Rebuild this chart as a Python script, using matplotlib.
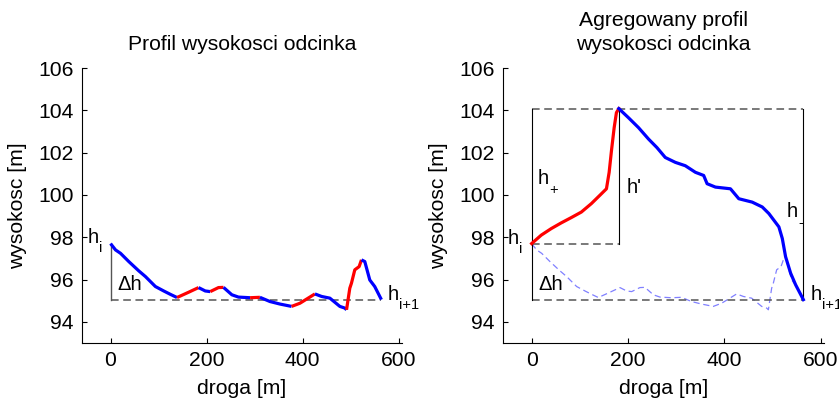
import matplotlib
matplotlib.use("Agg")
import matplotlib.pyplot as plt

plt.rcParams['font.family'] = ['Liberation Sans', 'DejaVu Sans']
FS = 15.2
TXT = 14.5
SUB = 10.5

# ---- original elevation profile (left) ----
dist = [0, 10.4, 20.8, 38, 58.8, 72.7, 93.4, 110.7, 124.6, 138.4, 162.6, 183.3,
        197.2, 207.6, 224.8, 235.2, 252.6, 266.4, 290.6, 311, 332, 353, 377,
        394.4, 425.6, 439.5, 456.7, 477.5, 487.9, 491.4, 498.2, 501.7, 508.6,
        517.6, 522.5, 529.4, 539.8, 550.1, 564]
elev = [97.7, 97.4, 97.24, 96.85, 96.41, 96.14, 95.67, 95.46, 95.3, 95.15,
        95.4, 95.62, 95.46, 95.43, 95.62, 95.63, 95.28, 95.17, 95.14, 95.16,
        94.96, 94.84, 94.73, 94.88, 95.32, 95.2, 95.12, 94.73, 94.65, 94.57,
        95.59, 95.83, 96.46, 96.61, 96.93, 96.85, 95.98, 95.67, 95.05]

# ---- aggregated profile (right) ----
up_x = [0, 20, 40.8, 61.6, 82.4, 103.2, 124, 141.5, 155.3, 160.9, 165.7,
        171.3, 176, 181]
up_h = [97.7, 98.1, 98.41, 98.68, 98.93, 99.19, 99.59, 99.98, 100.29,
        101.07, 102.09, 103.18, 103.89, 104.08]
down_x = [181, 201, 221.9, 242.7, 260, 277.4, 298.2, 319, 339.9, 357.1,
          364.2, 381.5, 412.7, 430, 457.8, 478.7, 492.4, 513.2, 520.3, 527.1,
          537.6, 548, 564]
down_h = [104.08, 103.65, 103.18, 102.64, 102.24, 101.77, 101.54, 101.38,
          101.07, 100.92, 100.53, 100.37, 100.29, 99.82, 99.66, 99.43, 99.12,
          98.49, 97.94, 97.08, 96.3, 95.75, 95.05]

titles = ["Profil wysokosci odcinka", "Agregowany profil\nwysokosci odcinka"]
xlabel = "droga [m]"
ylabel = "wysokosc [m]"
xticks = [0, 200, 400, 600]
yticks = [94, 96, 98, 100, 102, 104, 106]

RED = '#ff0000'
BLUE = '#0000ff'
GRAY = '#555555'

fig = plt.figure(figsize=(8.39, 4.0), dpi=100)
axL = fig.add_axes([0.0974, 0.1425, 0.3818, 0.6875])
axR = fig.add_axes([0.5992, 0.1425, 0.3830, 0.6875])

for ax, t in zip([axL, axR], titles):
    ax.set_xlim(-60, 607)
    ax.set_ylim(93, 106)
    ax.set_xticks(xticks)
    ax.set_yticks(yticks)
    ax.tick_params(direction='in', length=3.5, width=0.8, labelsize=FS, pad=6)
    for s in ['top', 'right']:
        ax.spines[s].set_visible(False)
    for s in ['left', 'bottom']:
        ax.spines[s].set_linewidth(0.8)
    ax.set_xlabel(xlabel, fontsize=FS, labelpad=6)
    ax.set_ylabel(ylabel, fontsize=FS, labelpad=8)
    ax.set_title(t, fontsize=FS, pad=13, linespacing=1.3)


def label(ax, x, y, main, sub=None, dx=8.2, dy=-6.5):
    ax.text(x, y, main, fontsize=TXT, ha='left', va='baseline')
    if sub:
        ax.annotate(sub, xy=(x, y), xycoords='data', xytext=(dx, dy),
                    textcoords='offset points', fontsize=SUB,
                    ha='left', va='baseline')


# ---- left panel ----
h0, h1 = elev[0], elev[-1]
axL.plot([dist[0], dist[0]], [h1, h0], color=GRAY, lw=1.0)
axL.plot([dist[0], dist[-1]], [h1, h1], color=GRAY, lw=1.1, dashes=(5, 3))

# colour runs by slope sign
runs = []
cur = [0]
cur_col = None
for i in range(len(dist) - 1):
    col = RED if elev[i + 1] > elev[i] else BLUE
    if cur_col is None or col == cur_col:
        cur.append(i + 1)
        cur_col = col
    else:
        runs.append((cur_col, cur))
        cur = [i, i + 1]
        cur_col = col
runs.append((cur_col, cur))
for col, idx in runs:
    axL.plot([dist[k] for k in idx], [elev[k] for k in idx], color=col,
             lw=2.3, solid_capstyle='butt', solid_joinstyle='round')

label(axL, -48, 97.73, 'h', 'i')
axL.text(14, 95.5, '\u0394h', fontsize=TXT, ha='left', va='baseline')
label(axL, 577, 95.04, 'h', 'i+1')

# ---- right panel ----
top = up_h[-1]
base = down_h[-1]
start = up_h[0]
xpk = up_x[-1]
xend = down_x[-1]
axR.plot(dist, elev, color='#8080ff', lw=0.9, dashes=(5, 3))
axR.plot([0, xend], [top, top], color=GRAY, lw=1.1, dashes=(5, 3))
axR.plot([0, xend], [base, base], color=GRAY, lw=1.1, dashes=(5, 3))
axR.plot([0, xpk], [start, start], color=GRAY, lw=1.1, dashes=(5, 3))
axR.plot([0, 0], [base, top], color='black', lw=0.8)
axR.plot([xpk, xpk], [start, top], color='black', lw=0.8)
axR.plot([xend, xend], [base, top], color='black', lw=0.8)
axR.plot(up_x, up_h, color=RED, lw=2.3, solid_joinstyle='round')
axR.plot(down_x, down_h, color=BLUE, lw=2.3, solid_joinstyle='round')

label(axR, -49, 97.7, 'h', 'i')
label(axR, 13, 100.5, 'h', '+', dy=-7.0)
axR.text(197, 100.07, "h'", fontsize=TXT, ha='left', va='baseline')
label(axR, 530, 98.94, 'h', '-', dy=-7.0)
axR.text(13, 95.5, '\u0394h', fontsize=TXT, ha='left', va='baseline')
label(axR, 579, 95.05, 'h', 'i+1')

fig.savefig('out.png', dpi=100)
